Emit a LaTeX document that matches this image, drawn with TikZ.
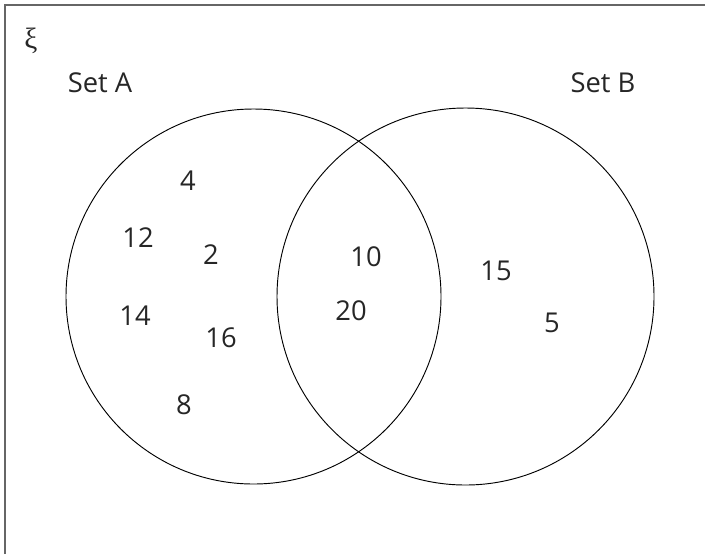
\documentclass[tikz,border=0pt]{standalone}
\usepackage{fontspec}
\setmainfont{Open Sans}
\newfontfamily\xifont{Liberation Serif}
\begin{document}
\begin{tikzpicture}[x=0.75pt,y=-0.75pt,
  lbl/.style={font=\fontsize{20.5}{24}\selectfont, text=black!85, inner sep=0pt},
  setc/.style={draw=black, line width=0.7pt}]
\useasboundingbox (0,0) rectangle (705,554);
\draw[line width=1.5pt, draw=black!60] (5,554) -- (5,5) -- (705,5);
\node[font=\xifont\fontsize{22}{24}\selectfont, text=black!85, inner sep=0pt] (xi) at (31,41) {ξ};
\node[lbl] (la) at (100,83) {Set A};
\node[lbl] (lb) at (603,83) {Set B};
\draw[setc] (253.5,296.5) circle (187.5);
\draw[setc] (465.5,296.5) circle (188.5);
\node[lbl] (n4) at (188,181) {4};
\node[lbl] (n12) at (138,238) {12};
\node[lbl] (n2) at (211,255) {2};
\node[lbl] (n14) at (135,316) {14};
\node[lbl] (n16) at (221,338) {16};
\node[lbl] (n8) at (184,405) {8};
\node[lbl] (n10) at (366,257) {10};
\node[lbl] (n20) at (351,311) {20};
\node[lbl] (n15) at (496,271) {15};
\node[lbl] (n5) at (552,323) {5};
\end{tikzpicture}
\end{document}
